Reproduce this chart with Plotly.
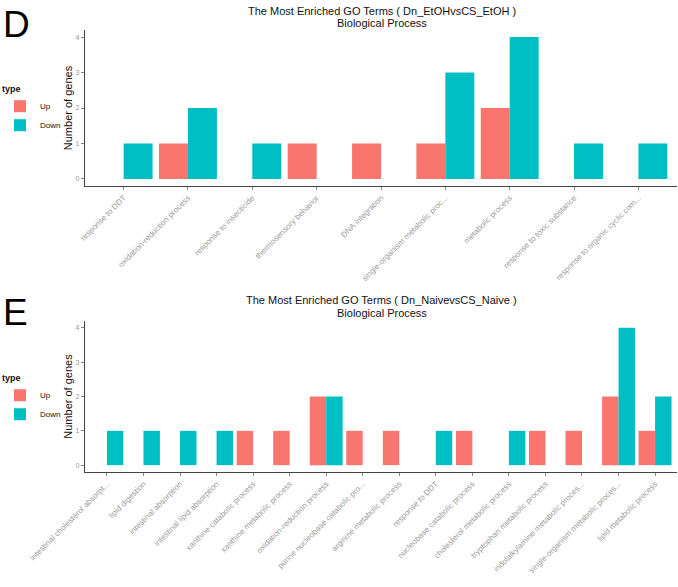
import plotly.graph_objects as go

W, H = 678, 587

d_terms = ["response to DDT", "oxidation-reduction process", "response to insecticide",
           "thermosensory behavior", "DNA integration", "single-organism metabolic proc...",
           "metabolic process", "response to toxic substance", "response to organic cyclic com..."]
d_up = [0, 1, 0, 1, 1, 1, 2, 0, 0]
d_down = [1, 2, 1, 0, 0, 3, 4, 1, 1]

e_terms = ["intestinal cholesterol absorpt...", "lipid digestion", "intestinal absorption",
           "intestinal lipid absorption", "xanthine catabolic process", "xanthine metabolic process",
           "oxidation-reduction process", "purine nucleobase catabolic pro...", "arginine metabolic process",
           "response to DDT", "nucleobase catabolic process", "cholesterol metabolic process",
           "tryptophan metabolic process", "indolalkylamine metabolic proces...",
           "single-organism metabolic proces...", "lipid metabolic process"]
e_up = [0, 0, 0, 0, 1, 1, 2, 1, 1, 0, 1, 0, 1, 1, 2, 1]
e_down = [1, 1, 1, 1, 0, 0, 2, 0, 0, 1, 0, 1, 0, 0, 4, 2]

y_ticks = [0, 1, 2, 3, 4]
UP_COL, DOWN_COL = "#F8766D", "#00BFC4"
FONT = "Liberation Sans, Arial, sans-serif"

def px_x(x):
    return x / W

def px_y(y):
    return 1 - y / H

fig = go.Figure()
fig.add_trace(go.Bar(x=d_terms, y=d_up, name="Up", marker_color=UP_COL, marker_line_width=0,
                     xaxis="x", yaxis="y", legend="legend"))
fig.add_trace(go.Bar(x=d_terms, y=d_down, name="Down", marker_color=DOWN_COL, marker_line_width=0,
                     xaxis="x", yaxis="y", legend="legend"))
fig.add_trace(go.Bar(x=e_terms, y=e_up, name="Up", marker_color=UP_COL, marker_line_width=0,
                     xaxis="x2", yaxis="y2", legend="legend2"))
fig.add_trace(go.Bar(x=e_terms, y=e_down, name="Down", marker_color=DOWN_COL, marker_line_width=0,
                     xaxis="x2", yaxis="y2", legend="legend2"))

xdom = [px_x(85), px_x(677)]
common_x = dict(showgrid=False, showline=True, linecolor="#444", linewidth=1.2,
                ticks="outside", ticklen=3, tickcolor="#888", tickangle=-45,
                tickfont=dict(family=FONT, size=8, color="#999999"), automargin=False)
common_y = dict(showgrid=False, showline=True, linecolor="#444", linewidth=1.2,
                ticks="outside", ticklen=3, tickcolor="#888", zeroline=False,
                tickvals=y_ticks, range=[-0.2, 4.2],
                tickfont=dict(family=FONT, size=7, color="#999999"), automargin=False,
                title=dict(text="Number of genes", font=dict(family=FONT, size=11, color="#111"), standoff=0))

legend_common = dict(xanchor="left", yanchor="top",
                     title=dict(text="<b>type</b>", font=dict(family=FONT, size=9, color="#111")),
                     font=dict(family=FONT, size=8, color="#111"), tracegroupgap=0,
                     bgcolor="rgba(0,0,0,0)", borderwidth=0, itemwidth=30)

fig.update_layout(
    width=W, height=H, margin=dict(l=0, r=0, t=0, b=0),
    paper_bgcolor="white", plot_bgcolor="white",
    barmode="group", bargap=0.1, bargroupgap=0,
    xaxis=dict(domain=xdom, anchor="y", range=[-0.6, len(d_terms) - 0.4], **common_x),
    yaxis=dict(domain=[px_y(186), px_y(30)], anchor="x", **common_y),
    xaxis2=dict(domain=xdom, anchor="y2", range=[-0.6, len(e_terms) - 0.4], **common_x),
    yaxis2=dict(domain=[px_y(472), px_y(321)], anchor="x2", **common_y),
    legend=dict(x=0, y=px_y(80), **legend_common),
    legend2=dict(x=0, y=px_y(369), **legend_common),
    showlegend=True,
)

ann = [
    dict(text="The Most Enriched GO Terms ( Dn_EtOHvsCS_EtOH )", x=px_x(382), y=px_y(11)),
    dict(text="Biological Process", x=px_x(382), y=px_y(23)),
    dict(text="The Most Enriched GO Terms ( Dn_NaivevsCS_Naive )", x=px_x(382), y=px_y(300)),
    dict(text="Biological Process", x=px_x(382), y=px_y(313)),
]
for a in ann:
    a.update(xref="paper", yref="paper", xanchor="center", yanchor="middle", showarrow=False,
             font=dict(family=FONT, size=11, color="#111"))
letters = [
    dict(text="D", x=px_x(1), y=px_y(24)),
    dict(text="E", x=px_x(1), y=px_y(312)),
]
for a in letters:
    a.update(xref="paper", yref="paper", xanchor="left", yanchor="middle", showarrow=False,
             font=dict(family=FONT, size=37, color="#000"))
fig.update_layout(annotations=ann + letters)

fig.write_html("out.html")
